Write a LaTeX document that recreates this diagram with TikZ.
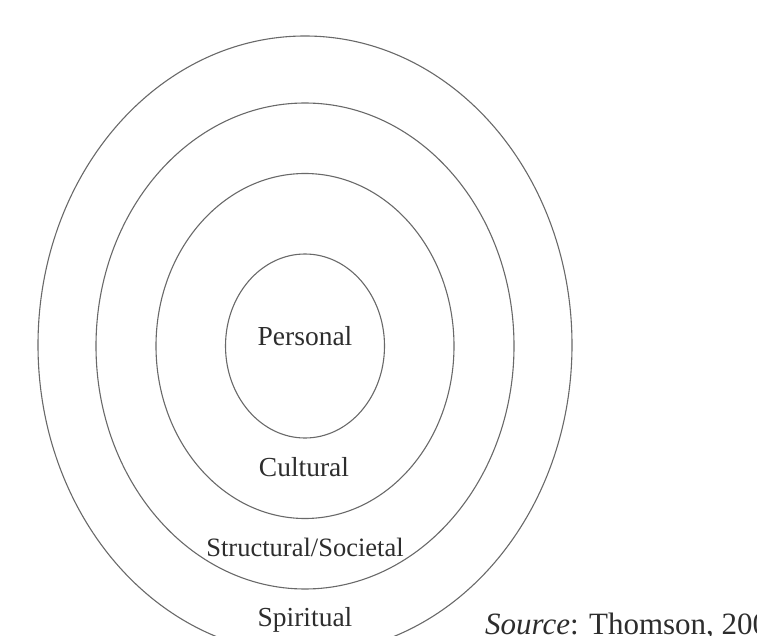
\documentclass[tikz,border=0pt]{standalone}
\usepackage{fontspec}
\setmainfont{Liberation Serif}
\usetikzlibrary{shapes.geometric}
\definecolor{ringgray}{RGB}{105,105,105}
\definecolor{txtgray}{RGB}{45,45,45}
\tikzset{
    % Rings
    ring/.style={ellipse, draw=ringgray, line width=1.1pt, inner sep=0pt},
    % Ring labels
    ringlbl/.style={anchor=base, inner sep=0pt, text=txtgray, font=\fontsize{27.5}{30}\selectfont},
    % Source note
    srclbl/.style={anchor=base west, inner sep=0pt, text=txtgray, font=\fontsize{31}{34}\selectfont},
}
\begin{document}
\begin{tikzpicture}[x=1pt, y=-1pt]
\clip (0,0) rectangle (757,636);
\useasboundingbox (0,0) rectangle (757,636);

% Rings
\node[ring, minimum width=534pt, minimum height=618pt] (spiritual) at (305,345) {};
\node[ring, minimum width=418pt, minimum height=486pt] (societal) at (305,346) {};
\node[ring, minimum width=298pt, minimum height=345pt] (cultural) at (305,346) {};
\node[ring, minimum width=159pt, minimum height=184pt] (personal) at (305,346) {};

% Labels
\node[ringlbl] (personallbl) at (305,345) {Personal};
\node[ringlbl] (culturallbl) at (304,476) {Cultural};
\node[ringlbl, font=\fontsize{26.5}{29}\selectfont] (societallbl) at (305,556) {Structural/Societal};
\node[ringlbl] (spirituallbl) at (305,626) {Spiritual};

% Source
\node[srclbl] (source) at (485,634) {\textit{Source}: Thomson, 2006};

\end{tikzpicture}
\end{document}
